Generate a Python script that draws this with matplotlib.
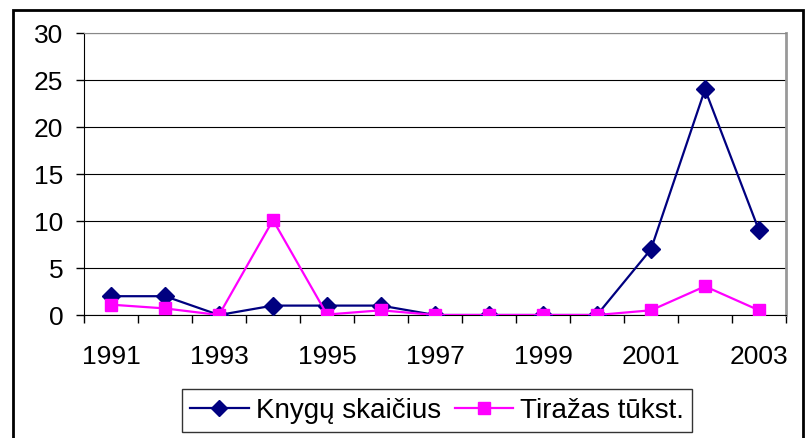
#python script for plotting the book counts chart
import matplotlib
matplotlib.use("Agg")
import matplotlib.pyplot as plt
from matplotlib.patches import Rectangle

plt.rcParams['font.family'] = ['Liberation Sans', 'DejaVu Sans']

years = ["1991", "1992", "1993", "1994", "1995", "1996", "1997",
         "1998", "1999", "2000", "2001", "2002", "2003"]
knygu = [2, 2, 0, 1, 1, 1, 0, 0, 0, 0, 7, 24, 9]
tirazas = [1.1, 0.7, 0, 10.1, 0.05, 0.5, 0, 0, 0, 0, 0.5, 3.05, 0.5]

fig = plt.figure(figsize=(8.1, 4.39), dpi=100)
ax = fig.add_axes([84/810, 1-316/439, (786-84)/810, (316-34)/439])

x = list(range(len(years)))
ax.plot(x, knygu, color="#000080", lw=1.6, marker="D", ms=9,
        label="Knygų skaičius", zorder=3)
ax.plot(x, tirazas, color="#FF00FF", lw=1.6, marker="s", ms=9,
        label="Tiražas tūkst.", zorder=3)

ax.set_ylim(0, 30)
ax.set_yticks(range(0, 31, 5))
ax.set_xlim(-0.5, len(years) - 0.5)
# ticks between categories, labels every second year
ax.set_xticks([i - 0.5 for i in range(len(years) + 1)])
ax.set_xticklabels([])
ax.set_xticks(x[::2], minor=True)
ax.set_xticklabels(years[::2], minor=True)
ax.tick_params(axis="x", which="minor", length=0, pad=21, labelsize=19)
ax.tick_params(axis="x", which="major", length=6, width=1, color="black")
ax.tick_params(axis="y", length=6, width=1, labelsize=19, pad=9)

ax.grid(axis="y", color="black", lw=0.8)
ax.set_axisbelow(True)
ax.spines["left"].set_color("black")
ax.spines["bottom"].set_color("black")
ax.spines["top"].set_color("#888888")
ax.spines["right"].set_color("#999999")
ax.spines["right"].set_linewidth(2)

leg = fig.legend(loc="center", bbox_to_anchor=(437/810, 1-411.5/439),
                 ncol=2, fontsize=20, frameon=True, fancybox=False, handlelength=2.1,
                 handletextpad=0.25, columnspacing=0.5, borderpad=0.3,
                 borderaxespad=0)
leg.get_frame().set_edgecolor("black")
leg.get_frame().set_linewidth(1)
for h in leg.legend_handles:
    h.set_markersize(8)

# outer chart frame
fig.patches.append(Rectangle((13/810, -0.05), (803-13)/810, 1.05 - 11/439,
                             transform=fig.transFigure, fill=False,
                             edgecolor="black", lw=2))

fig.savefig("out.png", dpi=100)
